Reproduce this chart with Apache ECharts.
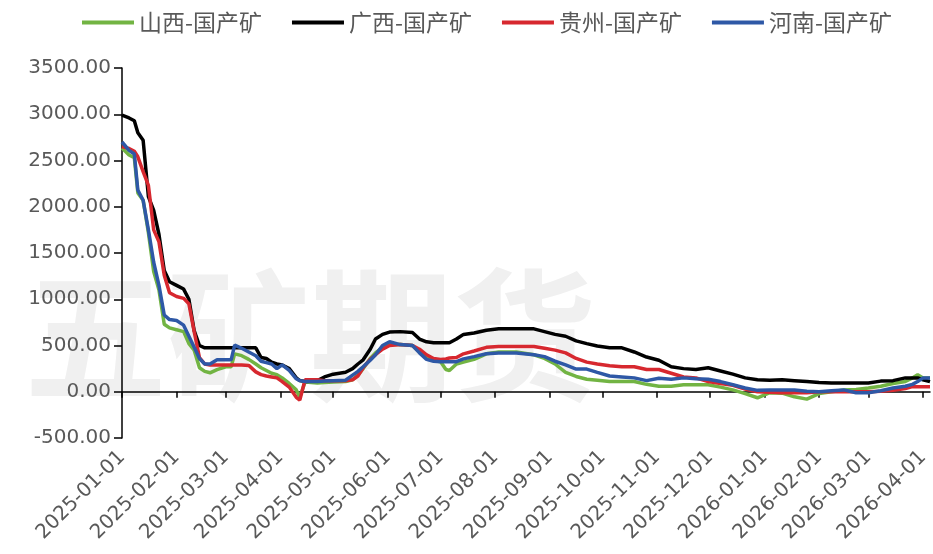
<!DOCTYPE html>
<html>
<head>
<meta charset="utf-8">
<script src="https://cdn.jsdelivr.net/npm/echarts@6/dist/echarts.min.js"></script>
<style>
html,body{margin:0;padding:0;background:#fff;}
#chart{width:933px;height:554px;}
</style>
</head>
<body>
<div id="chart"></div>
<script>
const seriesNames = ['山西-国产矿', '广西-国产矿', '贵州-国产矿', '河南-国产矿'];
const dates = [
'2025-01-01','2025-01-05','2025-01-08','2025-01-10','2025-01-13','2025-01-16','2025-01-19','2025-01-22','2025-01-25','2025-01-28',
'2025-02-01','2025-02-05','2025-02-08','2025-02-11','2025-02-14','2025-02-17','2025-02-20','2025-02-24',
'2025-03-01','2025-03-04','2025-03-06','2025-03-10','2025-03-14','2025-03-18','2025-03-21','2025-03-24','2025-03-27','2025-03-30',
'2025-04-02','2025-04-06','2025-04-10','2025-04-12','2025-04-15','2025-04-22','2025-04-26',
'2025-05-01','2025-05-08','2025-05-12','2025-05-15','2025-05-18','2025-05-22','2025-05-25','2025-05-29',
'2025-06-02','2025-06-08','2025-06-15','2025-06-19','2025-06-23','2025-06-27',
'2025-07-01','2025-07-04','2025-07-06','2025-07-10','2025-07-14','2025-07-20','2025-07-27',
'2025-08-03','2025-08-13','2025-08-23','2025-08-29',
'2025-09-04','2025-09-10','2025-09-16','2025-09-22','2025-09-28',
'2025-10-05','2025-10-12','2025-10-19','2025-10-26',
'2025-11-02','2025-11-09','2025-11-16','2025-11-23','2025-11-30',
'2025-12-07','2025-12-14','2025-12-21','2025-12-28',
'2026-01-04','2026-01-11','2026-01-18','2026-01-25',
'2026-02-01','2026-02-08','2026-02-15','2026-02-22',
'2026-03-01','2026-03-08','2026-03-15','2026-03-22','2026-03-26','2026-03-29',
'2026-04-01','2026-04-05'
];
const shanxi = [
2635,2560,2530,2150,2070,1720,1300,1100,730,690,
670,650,520,450,260,220,205,240,
270,270,410,390,350,300,260,230,200,185,
150,90,20,-60,105,95,100,
105,110,130,180,250,360,420,480,
510,510,500,430,370,340,
325,240,230,300,320,350,410,
430,430,400,360,
300,210,165,135,125,
110,110,110,80,
60,60,75,75,75,
50,20,-20,-65,
-10,-15,-55,-80,
-20,0,20,25,
40,60,90,110,150,185,
150,150
];
const guangxi = [
2990,2960,2930,2800,2720,2110,1960,1700,1310,1190,
1150,1110,1000,660,500,475,475,475,
475,475,475,475,475,475,370,360,320,300,
290,250,150,120,110,120,160,
190,210,250,300,345,460,570,620,
645,650,640,570,540,530,
530,530,530,570,620,635,665,
680,680,680,650,
620,600,550,520,495,
475,475,430,375,
340,270,250,240,260,
225,190,150,130,
125,130,120,110,
100,95,95,95,
95,115,120,150,150,150,
130,110
];
const guizhou = [
2650,2630,2600,2540,2380,2230,1750,1620,1260,1070,
1030,1010,950,650,370,300,290,290,
290,290,290,290,285,215,185,170,160,150,
110,50,-60,-90,130,130,120,
120,120,130,170,260,350,400,460,
500,510,500,460,400,360,
350,355,365,370,410,440,480,
490,490,490,470,
450,420,360,320,300,
280,270,270,240,
240,200,160,150,110,
90,70,30,0,
-5,-10,-10,-10,
0,0,0,0,
0,5,15,35,55,55,
55,55
];
const henan = [
2700,2610,2570,2180,2070,1750,1400,1150,830,780,
770,720,600,480,360,300,300,345,
345,345,505,470,430,390,330,315,300,250,
290,230,140,120,110,110,115,
120,125,180,220,270,340,400,500,
540,510,500,420,350,330,
325,325,325,325,355,380,410,
420,420,400,380,
330,290,245,245,210,
170,160,150,120,
145,135,150,140,135,
110,75,40,15,
20,20,20,5,
0,10,20,-10,
-10,10,40,60,80,110,
150,150
];
const yTicks = {min: -500, max: 3500, interval: 500};
const colors = ['#72B443', '#000000', '#D7282F', '#2E58A6'];

// daily category axis from 2025-01-01 to 2026-04-05
const categories = [];
(function () {
  let t = Date.UTC(2025, 0, 1);
  const end = Date.UTC(2026, 3, 5);
  while (t <= end) {
    const d = new Date(t);
    const s = d.getUTCFullYear() + '-' + String(d.getUTCMonth() + 1).padStart(2, '0') + '-' + String(d.getUTCDate()).padStart(2, '0');
    categories.push(s);
    t += 86400000;
  }
})();
const isMonthStart = function (idx, val) { return String(val).slice(8) === '01'; };

const allSeries = [shanxi, guangxi, guizhou, henan];
const chart = echarts.init(document.getElementById('chart'), null, {renderer: 'canvas'});
const font = '"Noto Sans CJK SC", "Noto Sans", sans-serif';
const numFont = '"DejaVu Sans", sans-serif';
chart.setOption({
  animation: false,
  backgroundColor: '#ffffff',
  color: colors,
  textStyle: {fontFamily: font},
  graphic: [{
    type: 'text',
    left: 24,
    top: 264,
    z: -10,
    silent: true,
    style: {
      text: '五矿期货',
      font: 'bold 143px "Noto Sans CJK SC"',
      fill: '#f0f0f0'
    }
  }],
  legend: {
    data: seriesNames,
    left: 77,
    top: 6,
    icon: 'rect',
    itemWidth: 52,
    itemHeight: 4,
    itemGap: 30,
    textStyle: {fontSize: 23, color: '#595959', fontFamily: font}
  },
  grid: {left: 122, right: 3, top: 68, bottom: 116, containLabel: false},
  xAxis: [{
    type: 'category',
    data: categories,
    boundaryGap: false,
    axisLine: {onZero: true, lineStyle: {color: '#000', width: 1.5}},
    axisTick: {show: true, interval: isMonthStart, length: 6, lineStyle: {color: '#000', width: 1.5}},
    axisLabel: {show: false},
    splitLine: {show: false}
  }, {
    type: 'category',
    data: categories,
    boundaryGap: false,
    position: 'bottom',
    axisLine: {show: false, onZero: false},
    axisTick: {show: false},
    axisLabel: {show: true, interval: isMonthStart, rotate: 45, fontSize: 20, color: '#595959', margin: 16, fontFamily: numFont},
    splitLine: {show: false}
  }],
  yAxis: {
    type: 'value',
    min: yTicks.min,
    max: yTicks.max,
    interval: yTicks.interval,
    axisLine: {show: true, onZero: false, lineStyle: {color: '#000', width: 1.5}},
    axisTick: {show: true, length: 8, lineStyle: {color: '#000', width: 1.5}},
    axisLabel: {fontSize: 20, color: '#595959', margin: 11, fontFamily: numFont, formatter: function (v) { return v.toFixed(2); }},
    splitLine: {show: false}
  },
  series: allSeries.map(function (arr, k) {
    return {
      name: seriesNames[k],
      type: 'line',
      xAxisIndex: 0,
      symbol: 'none',
      lineStyle: {width: 3.5, color: colors[k]},
      data: dates.map(function (d, i) { return [d, arr[i]]; }),
      z: 2 + k
    };
  })
});
</script>
</body>
</html>
